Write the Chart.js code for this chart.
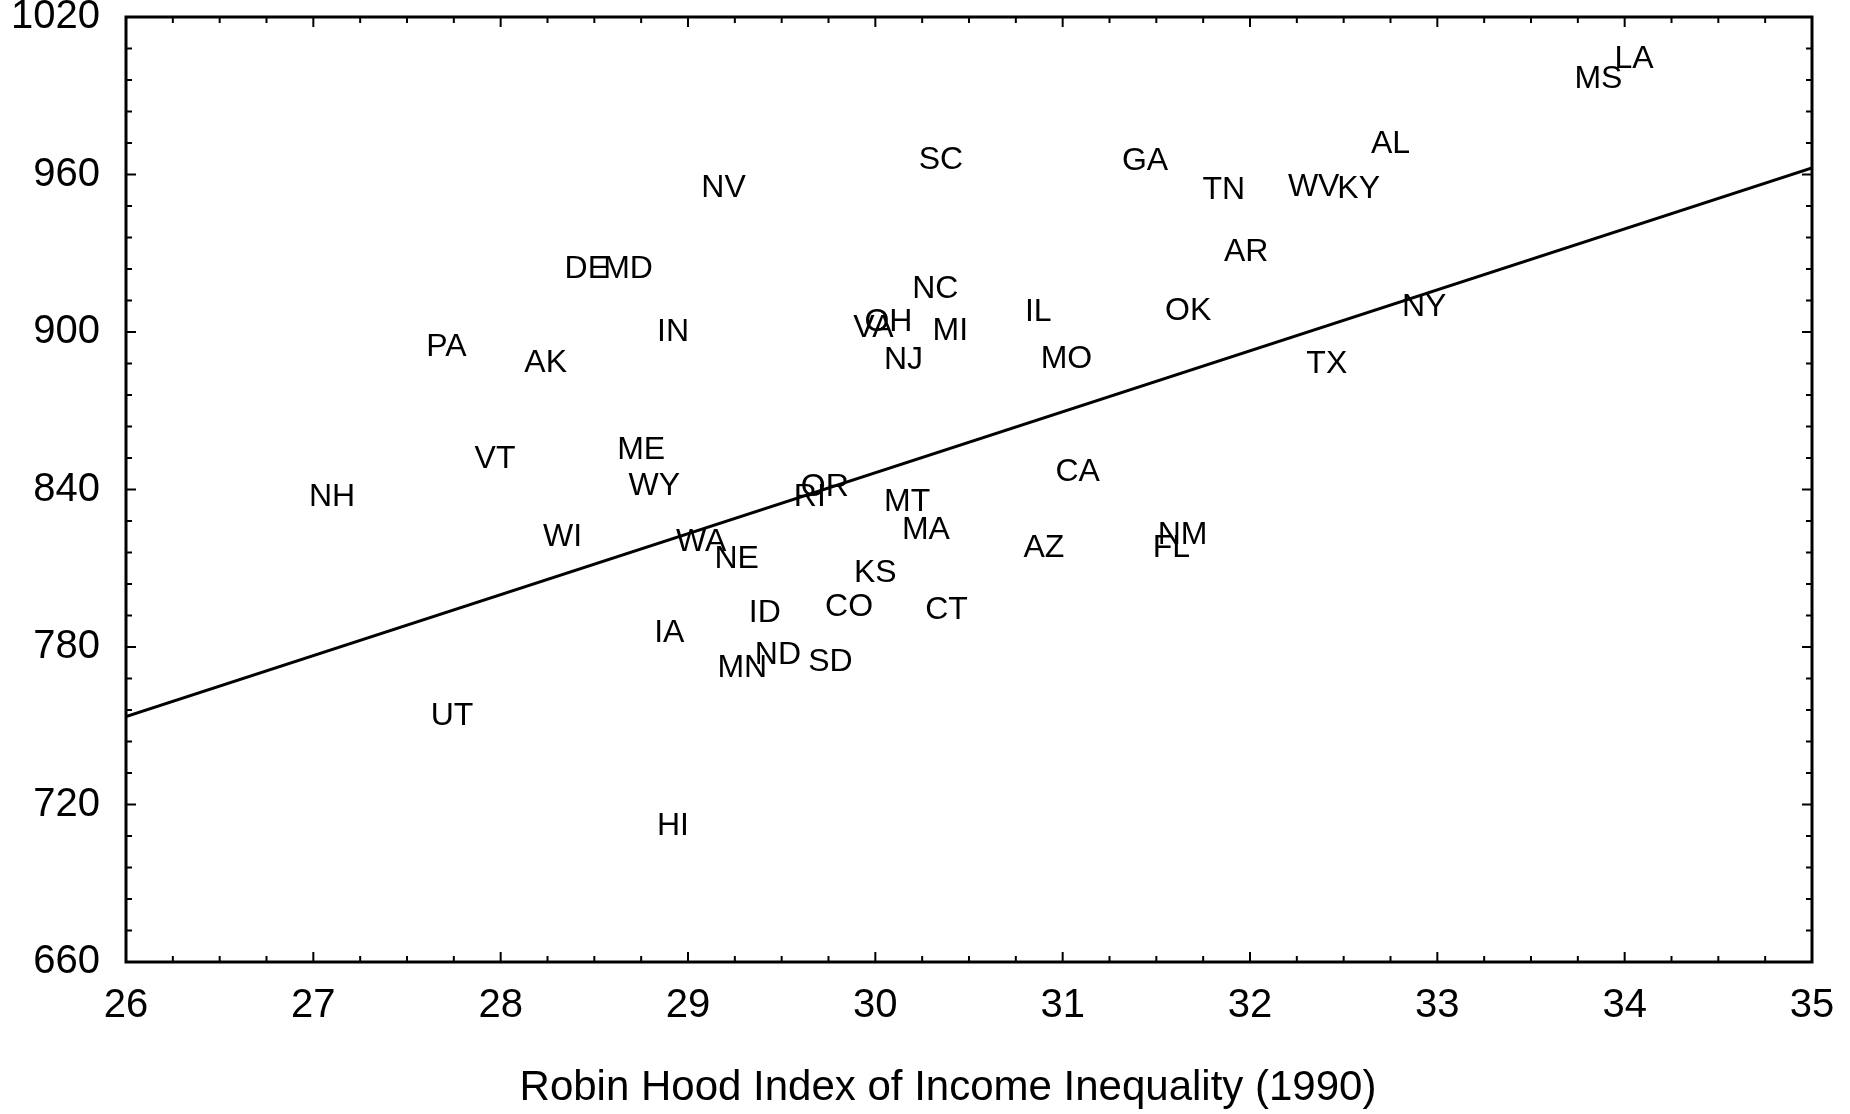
<!DOCTYPE html>
<html>
<head>
<meta charset="utf-8">
<script src="https://cdn.jsdelivr.net/npm/chart.js@4"></script>
<style>
  html, body { margin: 0; padding: 0; background: #fff; }
  #wrap { width: 1850px; height: 1114px; }
</style>
</head>
<body>
<div id="wrap"><canvas id="mortalityChart"></canvas></div>
<script>
// state labels with Robin Hood index (x) and mortality (y)
const states = ["LA", "MS", "AL", "WV", "KY", "TN", "GA", "SC", "NV", "AR",
  "NC", "DE", "MD", "IL", "OK", "NY", "IN", "PA", "OH", "VA",
  "MI", "AK", "NJ", "MO", "TX", "VT", "ME", "WY", "CA", "NH",
  "OR", "RI", "MT", "MA", "WI", "NM", "FL", "WA", "NE", "AZ",
  "KS", "CO", "CT", "ID", "IA", "ND", "MN", "SD", "UT", "HI"];
const robinHood = [34.05, 33.86, 32.75, 32.34, 32.58, 31.86, 31.44, 30.35, 29.19, 31.98,
  30.32, 28.46, 28.68, 30.87, 31.67, 32.93, 28.92, 27.71, 30.07, 29.99,
  30.40, 28.24, 30.15, 31.02, 32.41, 27.97, 28.75, 28.82, 31.08, 27.10,
  29.73, 29.65, 30.17, 30.27, 28.33, 31.64, 31.58, 29.07, 29.26, 30.90,
  30.00, 29.86, 30.38, 29.41, 28.90, 29.48, 29.29, 29.76, 27.74, 28.92];
const mortality = [1003.8, 996.2, 971.5, 955.3, 954.4, 953.9, 965.2, 965.6, 954.8, 930.6,
  916.2, 923.8, 923.8, 907.6, 908.1, 909.4, 900.0, 894.2, 903.6, 901.3,
  900.4, 888.3, 889.2, 889.7, 887.9, 851.5, 855.1, 841.1, 846.5, 837.1,
  840.7, 837.1, 835.3, 824.5, 821.8, 822.7, 817.8, 820.0, 813.3, 817.8,
  808.3, 795.3, 793.9, 793.0, 785.4, 776.9, 771.9, 774.2, 753.5, 711.7];

// regression line end points
const fitX = [26, 35];
const fitY = [753.5, 962.5];

const xTicks = [26, 27, 28, 29, 30, 31, 32, 33, 34, 35];
const yTicks = [660, 720, 780, 840, 900, 960, 1020];
const xTitle = "Robin Hood Index of Income Inequality (1990)";

const FONT = "'Liberation Sans', Arial, sans-serif";

const stateLabels = {
  id: "stateLabels",
  afterDatasetsDraw(chart) {
    const ctx = chart.ctx;
    const meta = chart.getDatasetMeta(0);
    ctx.save();
    ctx.fillStyle = "#000";
    ctx.font = "32px " + FONT;
    ctx.textAlign = "center";
    ctx.textBaseline = "middle";
    meta.data.forEach((pt, i) => {
      ctx.fillText(states[i], pt.x, pt.y);
    });
    ctx.restore();
  },
};

// box frame with small inward ticks on all four sides, plus the axis title
const frame = {
  id: "frame",
  afterDraw(chart) {
    const { ctx, chartArea: a, scales } = chart;
    const x = scales.x, y = scales.y;
    ctx.save();
    ctx.strokeStyle = "#000";
    ctx.lineWidth = 3;
    ctx.strokeRect(a.left, a.top, a.right - a.left, a.bottom - a.top);
    ctx.lineWidth = 2;
    ctx.beginPath();
    for (let v = x.min; v <= x.max + 1e-9; v += 0.25) {
      const px = x.getPixelForValue(v);
      const len = Math.abs(v - Math.round(v)) < 1e-6 ? 10 : 6;
      ctx.moveTo(px, a.bottom); ctx.lineTo(px, a.bottom - len);
      ctx.moveTo(px, a.top); ctx.lineTo(px, a.top + len);
    }
    for (let v = y.min; v <= y.max + 1e-9; v += 12) {
      const py = y.getPixelForValue(v);
      const len = (v - y.min) % 60 === 0 ? 10 : 6;
      ctx.moveTo(a.left, py); ctx.lineTo(a.left + len, py);
      ctx.moveTo(a.right, py); ctx.lineTo(a.right - len, py);
    }
    ctx.stroke();

    ctx.fillStyle = "#000";
    ctx.font = "42px " + FONT;
    ctx.textAlign = "center";
    ctx.textBaseline = "middle";
    ctx.fillText(xTitle, (a.left + a.right) / 2 - 21, a.bottom + 126);
    ctx.restore();
  },
};

const ctx = document.getElementById("mortalityChart").getContext("2d");
new Chart(ctx, {
  type: "scatter",
  data: {
    datasets: [
      {
        label: "States",
        data: robinHood.map((v, i) => ({ x: v, y: mortality[i] })),
        pointRadius: 0,
        pointHoverRadius: 0,
      },
      {
        label: "Fit",
        data: fitX.map((v, i) => ({ x: v, y: fitY[i] })),
        showLine: true,
        borderColor: "#000",
        borderWidth: 3,
        pointRadius: 0,
        fill: false,
      },
    ],
  },
  options: {
    responsive: true,
    maintainAspectRatio: false,
    animation: false,
    layout: { padding: { top: 17, right: 38, left: 0, bottom: 0 } },
    plugins: {
      legend: { display: false },
      tooltip: { enabled: false },
    },
    scales: {
      x: {
        type: "linear",
        min: 26,
        max: 35,
        afterBuildTicks: (s) => { s.ticks = xTicks.map((v) => ({ value: v })); },
        grid: { display: false, drawTicks: false },
        border: { display: false },
        ticks: { color: "#000", font: { family: FONT, size: 40 }, padding: 20,
          callback: (v) => String(v) },
        afterFit: (s) => {
          s.height = 152;
          s.paddingLeft = 0;
          s.paddingRight = 0;
        },
      },
      y: {
        type: "linear",
        min: 660,
        max: 1020,
        afterBuildTicks: (s) => { s.ticks = yTicks.map((v) => ({ value: v })); },
        grid: { display: false, drawTicks: false },
        border: { display: false },
        ticks: { color: "#000", font: { family: FONT, size: 40 }, padding: 26,
          callback: (v) => String(v) },
        afterFit: (s) => {
          s.width = 126;
          s.paddingTop = 0;
          s.paddingBottom = 0;
        },
      },
    },
  },
  plugins: [stateLabels, frame],
});
</script>
</body>
</html>
